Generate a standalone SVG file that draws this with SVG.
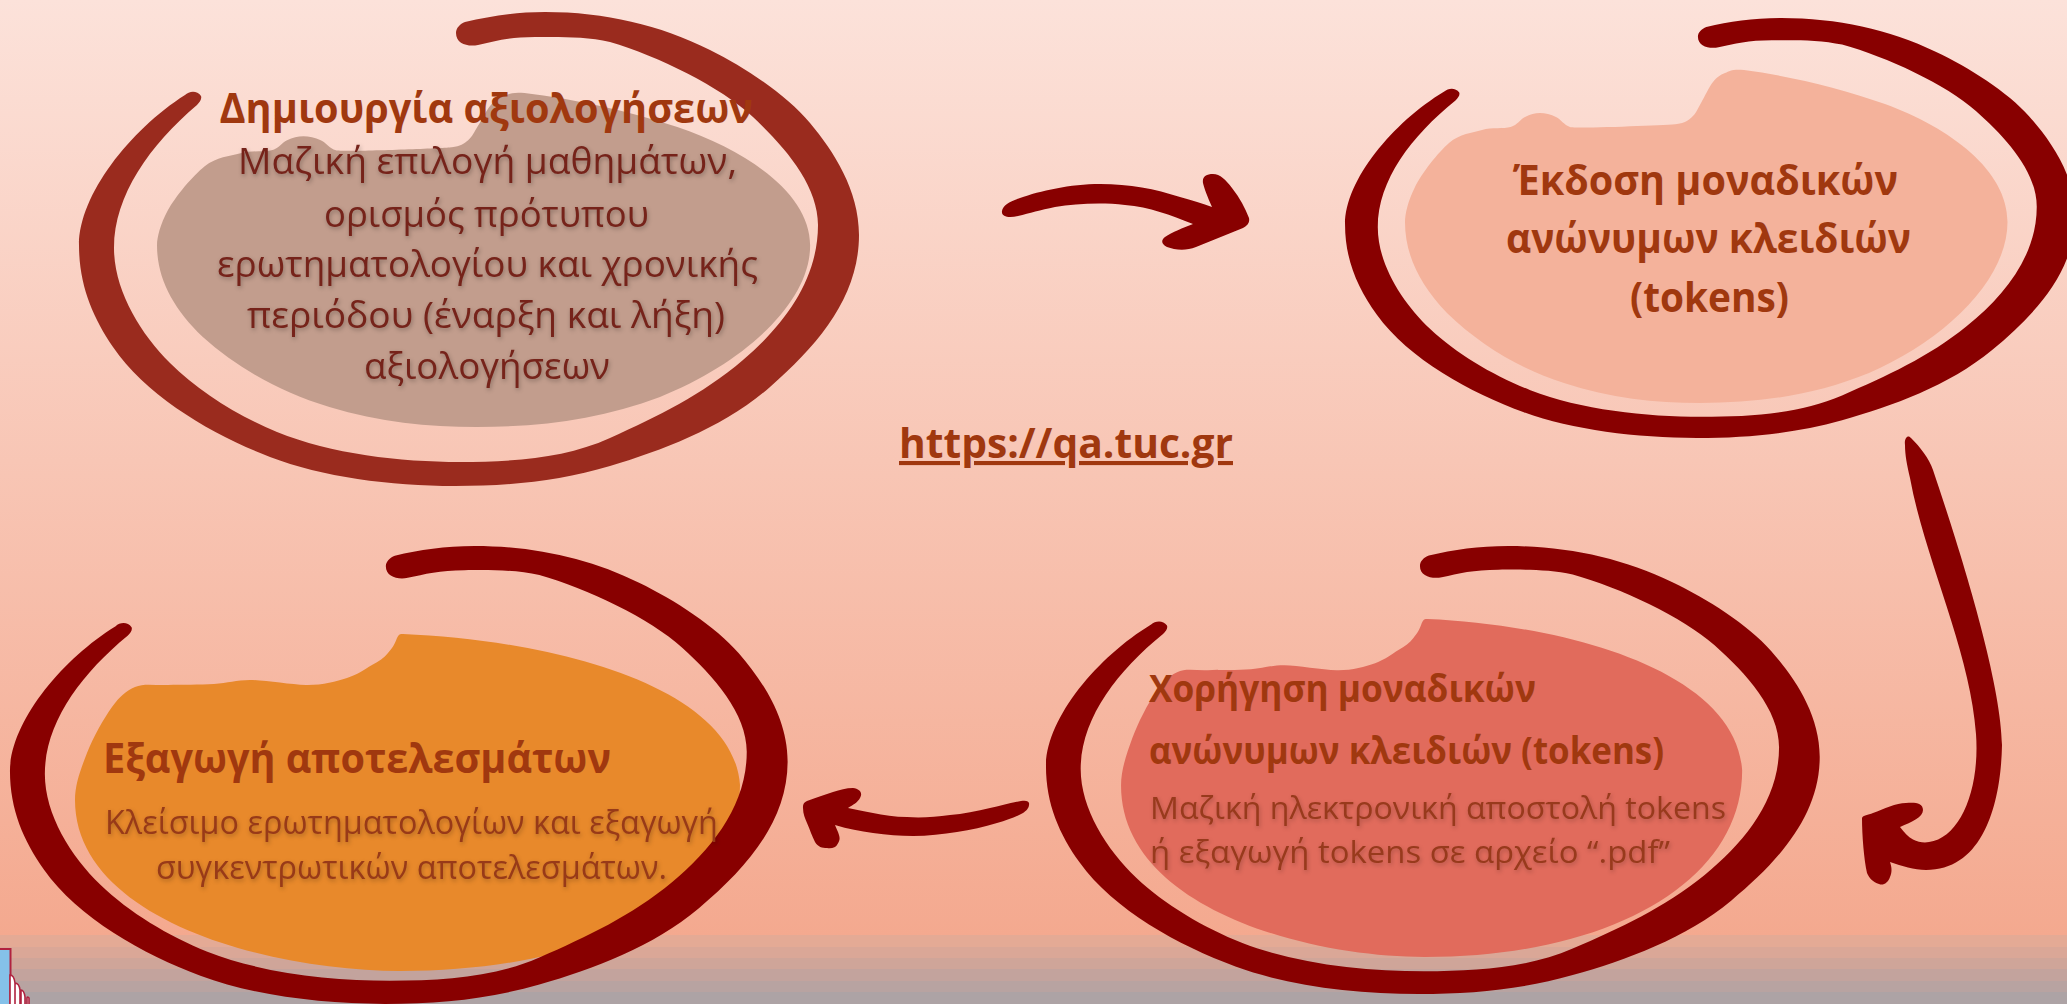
<svg xmlns="http://www.w3.org/2000/svg" xmlns:xlink="http://www.w3.org/1999/xlink" width="2067" height="1004" viewBox="0 0 2067 1004">
<style>
text{font-family:"Open Sans","Noto Sans","DejaVu Sans",sans-serif}
.title{font-weight:700;fill:#A0380F}
.b1{fill:#76231A;font-size:37px;filter:drop-shadow(1px 2px 2px rgba(0,0,0,.28))}
.b3{fill:#983A18;font-size:32px;filter:drop-shadow(1px 2px 2px rgba(0,0,0,.25))}
.b4{fill:#983A1C;font-size:31px;filter:drop-shadow(1px 2px 2px rgba(0,0,0,.22))}
.arrow{fill:#880000}
</style>
<defs>
<linearGradient id="bg" x1="0" y1="0" x2="0" y2="1"><stop offset="0" stop-color="#FCE2DA"/><stop offset="1" stop-color="#F4A98F"/></linearGradient>
<path id="ring" d="M465,22 C490,16 515,12 545,12 C605,12 660,25 710,50 C746,68 786.5,95 810,123 C833.5,151 859,190 859,235 C859,295 820.6,343 770,387 C724,427 664,450 610,466 C559,481 510,486 455,486 C390,486 322,477 270,457 C213,435 147,397 113,347 C92.6,317 79,285 79,245 C79,195 130,130 185,95 C189,91 197,90 201,96 C202,99 200,102 197,105 C150,145 114,195 114,248 C114,290 140,333 170,363 C198,391 238,416 277,432 C331,454 400,462 460,462 C515,462 566,458 610,438 C658,416 702,395 743,360 C784,325 818,280 818,225 C818,185 785,147 753,117 C721,87 658,56 610,42 C585,36 555,37 535,37 C510,37 495,41 478,45 C468,47 456,44 456,33 C456,28 460,24 465,22 Z"/>
<path id="blobA" d="M1725,73 C1730,71 1732,69 1744,70 C1790,76 1840,88 1885,104 C1950,128 2007.5,170 2007.5,222 C2007.5,280 1945,340 1869,373 C1815,395 1760,403 1700,403 C1655,403 1610,398 1564,383 C1520,369 1480,345 1447,313 C1420,285 1405,255 1405,222 C1405,214 1408,201 1415,187 C1422,173 1438,152.5 1449,143 C1460,133.5 1472,133 1482,130 C1492,127 1503.6,129 1510.6,127 C1517.6,125 1520,119.5 1525,117 C1530,114.5 1535,113 1540,113 C1545,113 1551,114.5 1556,117 C1561,119.5 1564,125 1570,127 C1576,129 1669,125 1677,124 C1685,123 1688,120.5 1692,117 C1696,113.5 1697.5,109 1701,103 C1704.5,97 1709,87 1713,82 C1717,77 1720,75 1725,73 Z"/>
<path id="blobB" d="M403,634 C550,640 733,685 740,785 C740,895 600,971 400,971 C270,971 75,920 75,800 C75,784 81,768.5 87,753 C93,737.5 104,718 112,707 C120,696 126,691 135,687 C144,683 155,685.5 168,685 C181,684.5 200,685 214,684 C228,683 236,680 250,680 C264,680 290,684.7 306,685 C322,685.3 336,681.5 347,678 C358,674.5 365,669 372,665 C379,661 384,658 388,653 C392,648 394,646 397,638 C399,634 400,634 403,634 Z"/>
</defs>
<rect id="background" width="2067" height="1004" fill="url(#bg)" transform="scale(1,0.9313)"/>
<g id="footer-band">
<rect y="935" width="2067" height="12" fill="#E4AA95"/>
<rect y="947" width="2067" height="11" fill="#DAA797"/>
<rect y="958" width="2067" height="11" fill="#CFA599"/>
<rect y="969" width="2067" height="12" fill="#C3A39D"/>
<rect y="981" width="2067" height="11" fill="#B8A3A1"/>
<rect y="992" width="2067" height="12" fill="#ADA3A5"/>
</g>
<g id="corner-icon" stroke="#B0223F" stroke-width="1.6">
<rect x="-3" y="949" width="13.5" height="60" fill="#85C1E9" stroke-width="2"/>
<path fill="#fff" d="M27,1006 V998 Q27,996 29,998 V1006 Z M21,1006 V990 Q24,990 25,997 V1006 Z M15,1006 V983 Q19,983 20,990 V1006 Z M10,1006 V975 Q14,975 15,983 V1006 Z"/>
</g>
<g id="node-create">
<use xlink:href="#blobA" href="#blobA" fill="#C29D8D" transform="translate(-1366,22.8) scale(1.084,1.003)"/>
<use xlink:href="#ring" href="#ring" fill="#9A2B1E"/>
<text class="title" font-size="41" x="219.5" y="123" textLength="533.5" lengthAdjust="spacingAndGlyphs">Δημιουργία αξιολογήσεων</text>
<text class="b1" x="238" y="174" textLength="499" lengthAdjust="spacingAndGlyphs">Μαζική επιλογή μαθημάτων,</text>
<text class="b1" x="324" y="227" textLength="325" lengthAdjust="spacingAndGlyphs">ορισμός πρότυπου</text>
<text class="b1" x="217" y="277" textLength="541" lengthAdjust="spacingAndGlyphs">ερωτηματολογίου και χρονικής</text>
<text class="b1" x="247" y="328" textLength="478" lengthAdjust="spacingAndGlyphs">περιόδου (έναρξη και λήξη)</text>
<text class="b1" x="364" y="379" textLength="246" lengthAdjust="spacingAndGlyphs">αξιολογήσεων</text>
</g>
<g id="node-issue">
<use xlink:href="#blobA" href="#blobA" fill="#F4B29B"/>
<use xlink:href="#ring" href="#ring" fill="#880000" transform="translate(1271.1,7.4) scale(.936,.886)"/>
<text class="title" font-size="41" x="1513" y="195" textLength="385" lengthAdjust="spacingAndGlyphs">Έκδοση μοναδικών</text>
<text class="title" font-size="41" x="1506" y="253" textLength="405" lengthAdjust="spacingAndGlyphs">ανώνυμων κλειδιών</text>
<text class="title" font-size="41" x="1630" y="312" textLength="159" lengthAdjust="spacingAndGlyphs">(tokens)</text>
</g>
<g id="node-export">
<use xlink:href="#blobB" href="#blobB" fill="#E8892B"/>
<use xlink:href="#ring" href="#ring" fill="#880000" transform="translate(-68.8,534.4) scale(.997,.966)"/>
<text class="title" font-size="41" x="103" y="773" textLength="508" lengthAdjust="spacingAndGlyphs">Εξαγωγή αποτελεσμάτων</text>
<text class="b3" x="105" y="834" textLength="613" lengthAdjust="spacingAndGlyphs">Κλείσιμο ερωτηματολογίων και εξαγωγή</text>
<text class="b3" x="156" y="879" textLength="511" lengthAdjust="spacingAndGlyphs">συγκεντρωτικών αποτελεσμάτων.</text>
</g>
<g id="node-deliver">
<use xlink:href="#blobB" href="#blobB" fill="#E16B5C" transform="translate(1051,-16.9) scale(.934,1.003)"/>
<use xlink:href="#ring" href="#ring" fill="#880000" transform="translate(967.6,534.7) scale(.992,.945)"/>
<text class="title" font-size="37" x="1149" y="702" textLength="387" lengthAdjust="spacingAndGlyphs">Χορήγηση μοναδικών</text>
<text class="title" font-size="37" x="1149" y="764" textLength="515" lengthAdjust="spacingAndGlyphs">ανώνυμων κλειδιών (tokens)</text>
<text class="b4" x="1150" y="819" textLength="576" lengthAdjust="spacingAndGlyphs">Μαζική ηλεκτρονική αποστολή tokens</text>
<text class="b4" x="1150" y="863" textLength="520" lengthAdjust="spacingAndGlyphs">ή εξαγωγή tokens σε αρχείο “.pdf”</text>
</g>
<g id="node-url">
<text class="title" font-size="41" x="899" y="458" textLength="334" lengthAdjust="spacingAndGlyphs" text-decoration="underline">https://qa.tuc.gr</text>
</g>
<g id="connectors">
<path class="arrow" d="M1002,211 C1003,205 1010,201 1020,198 C1040,191 1070,184 1100,184 C1130,184 1155,189 1180,197 C1192,200 1203,204 1212,207 C1208,198 1204,188 1203,183 C1202,177 1206,174 1213,174 C1220,174 1226,180 1232,188 C1240,198 1245,208 1249,218 C1250,223 1247,226 1243,228 L1196,247 C1186,251 1175,250 1167,247 C1161,244 1161,240 1165,237 C1172,232 1183,228 1193,224 C1170,215 1150,207 1125,205 C1100,202 1075,204 1055,207 C1040,210 1030,213 1018,216 C1009,218 1001,217 1002,211 Z"/>
<path class="arrow" d="M1905,445 C1904,438 1908,434 1911,438 C1920,447 1929,458 1933,470 C1960,550 2001,680 2002,745 C2001,800 1985,870 1926,870 C1914,870 1902,866 1890,862 C1892,868 1892,872 1890,877 C1888,883 1883,886 1879,884 C1873,882 1869,878 1867,873 C1864,860 1862,835 1862,818 C1863,815 1868,815 1873,813 C1884,809 1896,803 1906,803 C1915,802 1923,803 1923,810 C1923,817 1912,822 1900,827 C1904,832 1908,837 1913,839.5 C1918,842 1924,843 1929,842 C1960,838 1980,790 1976,734 C1970,650 1925,560 1910,478 C1907,465 1905,455 1905,445 Z"/>
<path class="arrow" d="M1029,805 C1030,801 1026,800 1021,801 C1010,803 1000,806 990,808 C977,811 963,814 950,815 C935,817 921,818 907,817 C895,817 883,815 873,813 C864,811 856,810 848,808 C853,805 858,802 860,798 C863,793 860,789 853,788 C846,788 840,790 833,792 C824,795 815,798 807,801 C803,803 803,805 803,808 C803,814 805,818 807,823 C810,830 812,836 815,842 C818,847 822,848 827,848 C832,849 836,847 837,845 C840,841 840,838 839,835 C838,831 836,828 835,825 C848,829 860,831 873,833 C887,835 900,836 913,836 C928,836 943,834 957,832 C971,830 984,827 997,823 C1008,820 1016,817 1023,813 C1026,811 1029,808 1029,805 Z"/>
</g>
</svg>
